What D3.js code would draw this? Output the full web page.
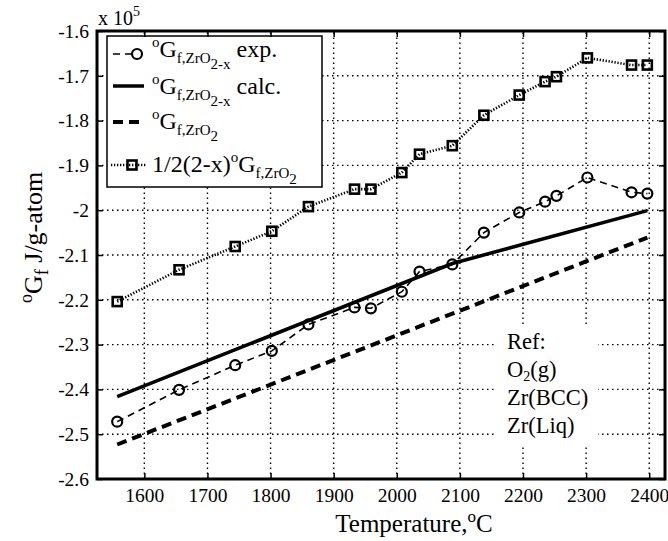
<!DOCTYPE html>
<html>
<head>
<meta charset="utf-8">
<script src="https://cdn.jsdelivr.net/npm/d3@7"></script>
<style>
  body { margin: 0; background: #fff; }
  text { font-family: "Liberation Serif", "Times New Roman", serif; fill: #000; }
</style>
</head>
<body>
<div id="chart"></div>
<script>
// Gibbs energy of formation vs temperature (x 10^5)

const temps = [1557, 1655, 1744, 1802, 1860, 1933, 1959, 2008, 2036, 2088, 2138, 2194, 2235, 2253, 2302, 2372, 2397];
const gExp = [-2.472, -2.401, -2.346, -2.314, -2.255, -2.217, -2.219, -2.182, -2.137, -2.121, -2.050, -2.005, -1.981, -1.968, -1.927, -1.960, -1.963];
const gHalf = [-2.204, -2.133, -2.081, -2.047, -1.992, -1.953, -1.953, -1.916, -1.875, -1.856, -1.788, -1.743, -1.713, -1.702, -1.660, -1.676, -1.676];
const calcTemps = [1557, 2088, 2397];
const gCalc = [-2.416, -2.119, -2.001];
const zro2Temps = [1557, 2397];
const gZrO2 = [-2.523, -2.061];

const xTicks = [1600, 1700, 1800, 1900, 2000, 2100, 2200, 2300, 2400];
const yTicks = [-2.6, -2.5, -2.4, -2.3, -2.2, -2.1, -2.0, -1.9, -1.8, -1.7, -1.6];
const yTickLabels = ["-2.6", "-2.5", "-2.4", "-2.3", "-2.2", "-2.1", "-2", "-1.9", "-1.8", "-1.7", "-1.6"];

// rich text pieces: [text, level]  level: 0 normal, 1 sup, 2 sub, 3 sub-sub
const legendLabels = [
  [["o", 1], ["G", 0], ["f,ZrO", 2], ["2-x", 3], [" exp.", 0]],
  [["o", 1], ["G", 0], ["f,ZrO", 2], ["2-x", 3], [" calc.", 0]],
  [["o", 1], ["G", 0], ["f,ZrO", 2], ["2", 3]],
  [["1/2(2-x)", 0], ["o", 1], ["G", 0], ["f,ZrO", 2], ["2", 3]]
];
const refLines = [
  [["Ref:", 0]],
  [["O", 0], ["2", 2], ["(g)", 0]],
  [["Zr(BCC)", 0]],
  [["Zr(Liq)", 0]]
];

const width = 668;
const height = 541;

const svg = d3.select("#chart")
  .append("svg")
  .attr("width", width)
  .attr("height", height);

const x = d3.scaleLinear().domain([1525, 2425]).range([97, 665]);
const y = d3.scaleLinear().domain([-2.6, -1.6]).range([479, 31]);

// writes a text made of pieces with super/subscripts
function richText(sel, parts, big, small, shift = [0, -10, 6, 12]) {
  let cur = 0;
  parts.forEach(([t, lvl]) => {
    sel.append("tspan")
      .attr("dy", shift[lvl] - cur)
      .attr("font-size", lvl === 0 ? big : small)
      .text(t);
    cur = shift[lvl];
  });
}

// grid
const grid = svg.append("g")
  .attr("stroke", "#000")
  .attr("stroke-width", 1.4)
  .attr("stroke-dasharray", "1.5,3.5");

grid.selectAll(".vgrid")
  .data(xTicks)
  .join("line")
  .attr("x1", d => x(d)).attr("x2", d => x(d))
  .attr("y1", y(-2.6)).attr("y2", y(-1.6));

grid.selectAll(".hgrid")
  .data(yTicks.slice(1, -1))
  .join("line")
  .attr("x1", x(1525)).attr("x2", x(2425))
  .attr("y1", d => y(d)).attr("y2", d => y(d));

// lines
const line = d3.line().x(d => x(d[0])).y(d => y(d[1]));
const lines = svg.append("g").attr("fill", "none").attr("stroke", "#000");

lines.append("path")
  .attr("d", line(zro2Temps.map((t, i) => [t, gZrO2[i]])))
  .attr("stroke-width", 4)
  .attr("stroke-dasharray", "10,6");

lines.append("path")
  .attr("d", line(calcTemps.map((t, i) => [t, gCalc[i]])))
  .attr("stroke-width", 3.5);

lines.append("path")
  .attr("d", line(temps.map((t, i) => [t, gExp[i]])))
  .attr("stroke-width", 1.6)
  .attr("stroke-dasharray", "7,5");

lines.append("path")
  .attr("d", line(temps.map((t, i) => [t, gHalf[i]])))
  .attr("stroke-width", 2.6)
  .attr("stroke-dasharray", "1.3,1.7");

// markers
svg.append("g")
  .selectAll("circle")
  .data(temps)
  .join("circle")
  .attr("cx", d => x(d))
  .attr("cy", (d, i) => y(gExp[i]))
  .attr("r", 5)
  .attr("fill", "none")
  .attr("stroke", "#000")
  .attr("stroke-width", 2.2);

svg.append("g")
  .selectAll("rect")
  .data(temps)
  .join("rect")
  .attr("x", d => x(d) - 4.5)
  .attr("y", (d, i) => y(gHalf[i]) - 4.5)
  .attr("width", 9)
  .attr("height", 9)
  .attr("fill", "none")
  .attr("stroke", "#000")
  .attr("stroke-width", 2.6);

// reference note
svg.append("rect")
  .attr("x", 495).attr("y", 326)
  .attr("width", 103).attr("height", 119)
  .attr("fill", "#fff");

refLines.forEach((parts, i) => {
  const t = svg.append("text")
    .attr("x", 507)
    .attr("y", 349 + i * 28)
    .attr("font-size", 22.5);
  richText(t, parts, 22.5, 14, [0, -9, 4, 10]);
});

// legend
const legend = svg.append("g");
legend.append("rect")
  .attr("x", 107).attr("y", 36)
  .attr("width", 215).attr("height", 151)
  .attr("fill", "#fff")
  .attr("stroke", "#000")
  .attr("stroke-width", 1.5);

const rowBase = [57, 94, 129, 172];
const rowSample = [54, 86, 122, 165];

legend.append("line")
  .attr("x1", 113).attr("x2", 135)
  .attr("y1", rowSample[0]).attr("y2", rowSample[0])
  .attr("stroke", "#000").attr("stroke-width", 1.6).attr("stroke-dasharray", "7,5");
legend.append("circle")
  .attr("cx", 137).attr("cy", rowSample[0]).attr("r", 5)
  .attr("fill", "none").attr("stroke", "#000").attr("stroke-width", 2.2);

legend.append("line")
  .attr("x1", 113).attr("x2", 144)
  .attr("y1", rowSample[1]).attr("y2", rowSample[1])
  .attr("stroke", "#000").attr("stroke-width", 3.5);

legend.append("line")
  .attr("x1", 113).attr("x2", 144)
  .attr("y1", rowSample[2]).attr("y2", rowSample[2])
  .attr("stroke", "#000").attr("stroke-width", 4).attr("stroke-dasharray", "10,6");

legend.append("line")
  .attr("x1", 111).attr("x2", 147)
  .attr("y1", rowSample[3]).attr("y2", rowSample[3])
  .attr("stroke", "#000").attr("stroke-width", 2.6).attr("stroke-dasharray", "1.3,1.7");
legend.append("rect")
  .attr("x", 127.5).attr("y", rowSample[3] - 4.5)
  .attr("width", 9).attr("height", 9)
  .attr("fill", "none").attr("stroke", "#000").attr("stroke-width", 2.6);

legendLabels.forEach((parts, i) => {
  const t = legend.append("text")
    .attr("x", 152)
    .attr("y", rowBase[i])
    .attr("font-size", 24);
  richText(t, parts, 24, 15);
});

// axes
function styleAxis(g) {
  g.select(".domain").remove();
  g.selectAll(".tick line").attr("stroke", "#000").attr("stroke-width", 1.5);
  g.selectAll("text")
    .attr("font-family", "Liberation Serif, Times New Roman, serif")
    .attr("font-size", 19.5)
    .attr("fill", "#000");
}

svg.append("g")
  .attr("transform", `translate(0,${y(-2.6)})`)
  .call(d3.axisBottom(x).tickValues(xTicks).tickSize(-6).tickPadding(9).tickFormat(d3.format("d")))
  .call(styleAxis);

svg.append("g")
  .attr("transform", `translate(0,${y(-1.6)})`)
  .call(d3.axisTop(x).tickValues(xTicks).tickSize(-6).tickFormat(""))
  .call(styleAxis);

svg.append("g")
  .attr("transform", `translate(${x(1525)},0)`)
  .call(d3.axisLeft(y).tickValues(yTicks).tickSize(-6).tickPadding(8)
    .tickFormat((d, i) => yTickLabels[i]))
  .call(styleAxis);

svg.append("g")
  .attr("transform", `translate(${x(2425)},0)`)
  .call(d3.axisRight(y).tickValues(yTicks).tickSize(-6).tickFormat(""))
  .call(styleAxis);

// frame
svg.append("rect")
  .attr("x", x(1525)).attr("y", y(-1.6))
  .attr("width", x(2425) - x(1525))
  .attr("height", y(-2.6) - y(-1.6))
  .attr("fill", "none")
  .attr("stroke", "#000")
  .attr("stroke-width", 3);

// exponent note
const expo = svg.append("text").attr("x", 98).attr("y", 25).attr("font-size", 20);
expo.append("tspan").text("x 10");
expo.append("tspan").attr("dy", -9).attr("font-size", 14).text("5");

// axis titles
const xt = svg.append("text")
  .attr("x", 414)
  .attr("y", 532)
  .attr("text-anchor", "middle")
  .attr("font-size", 25);
richText(xt, [["Temperature,", 0], ["o", 1], ["C", 0]], 25, 17);

const yt = svg.append("text")
  .attr("transform", "translate(42,303) rotate(-90)")
  .attr("font-size", 26);
richText(yt, [["o", 1], ["G", 0], ["f", 2], [" J/g-atom", 0]], 26, 18);
</script>
</body>
</html>
